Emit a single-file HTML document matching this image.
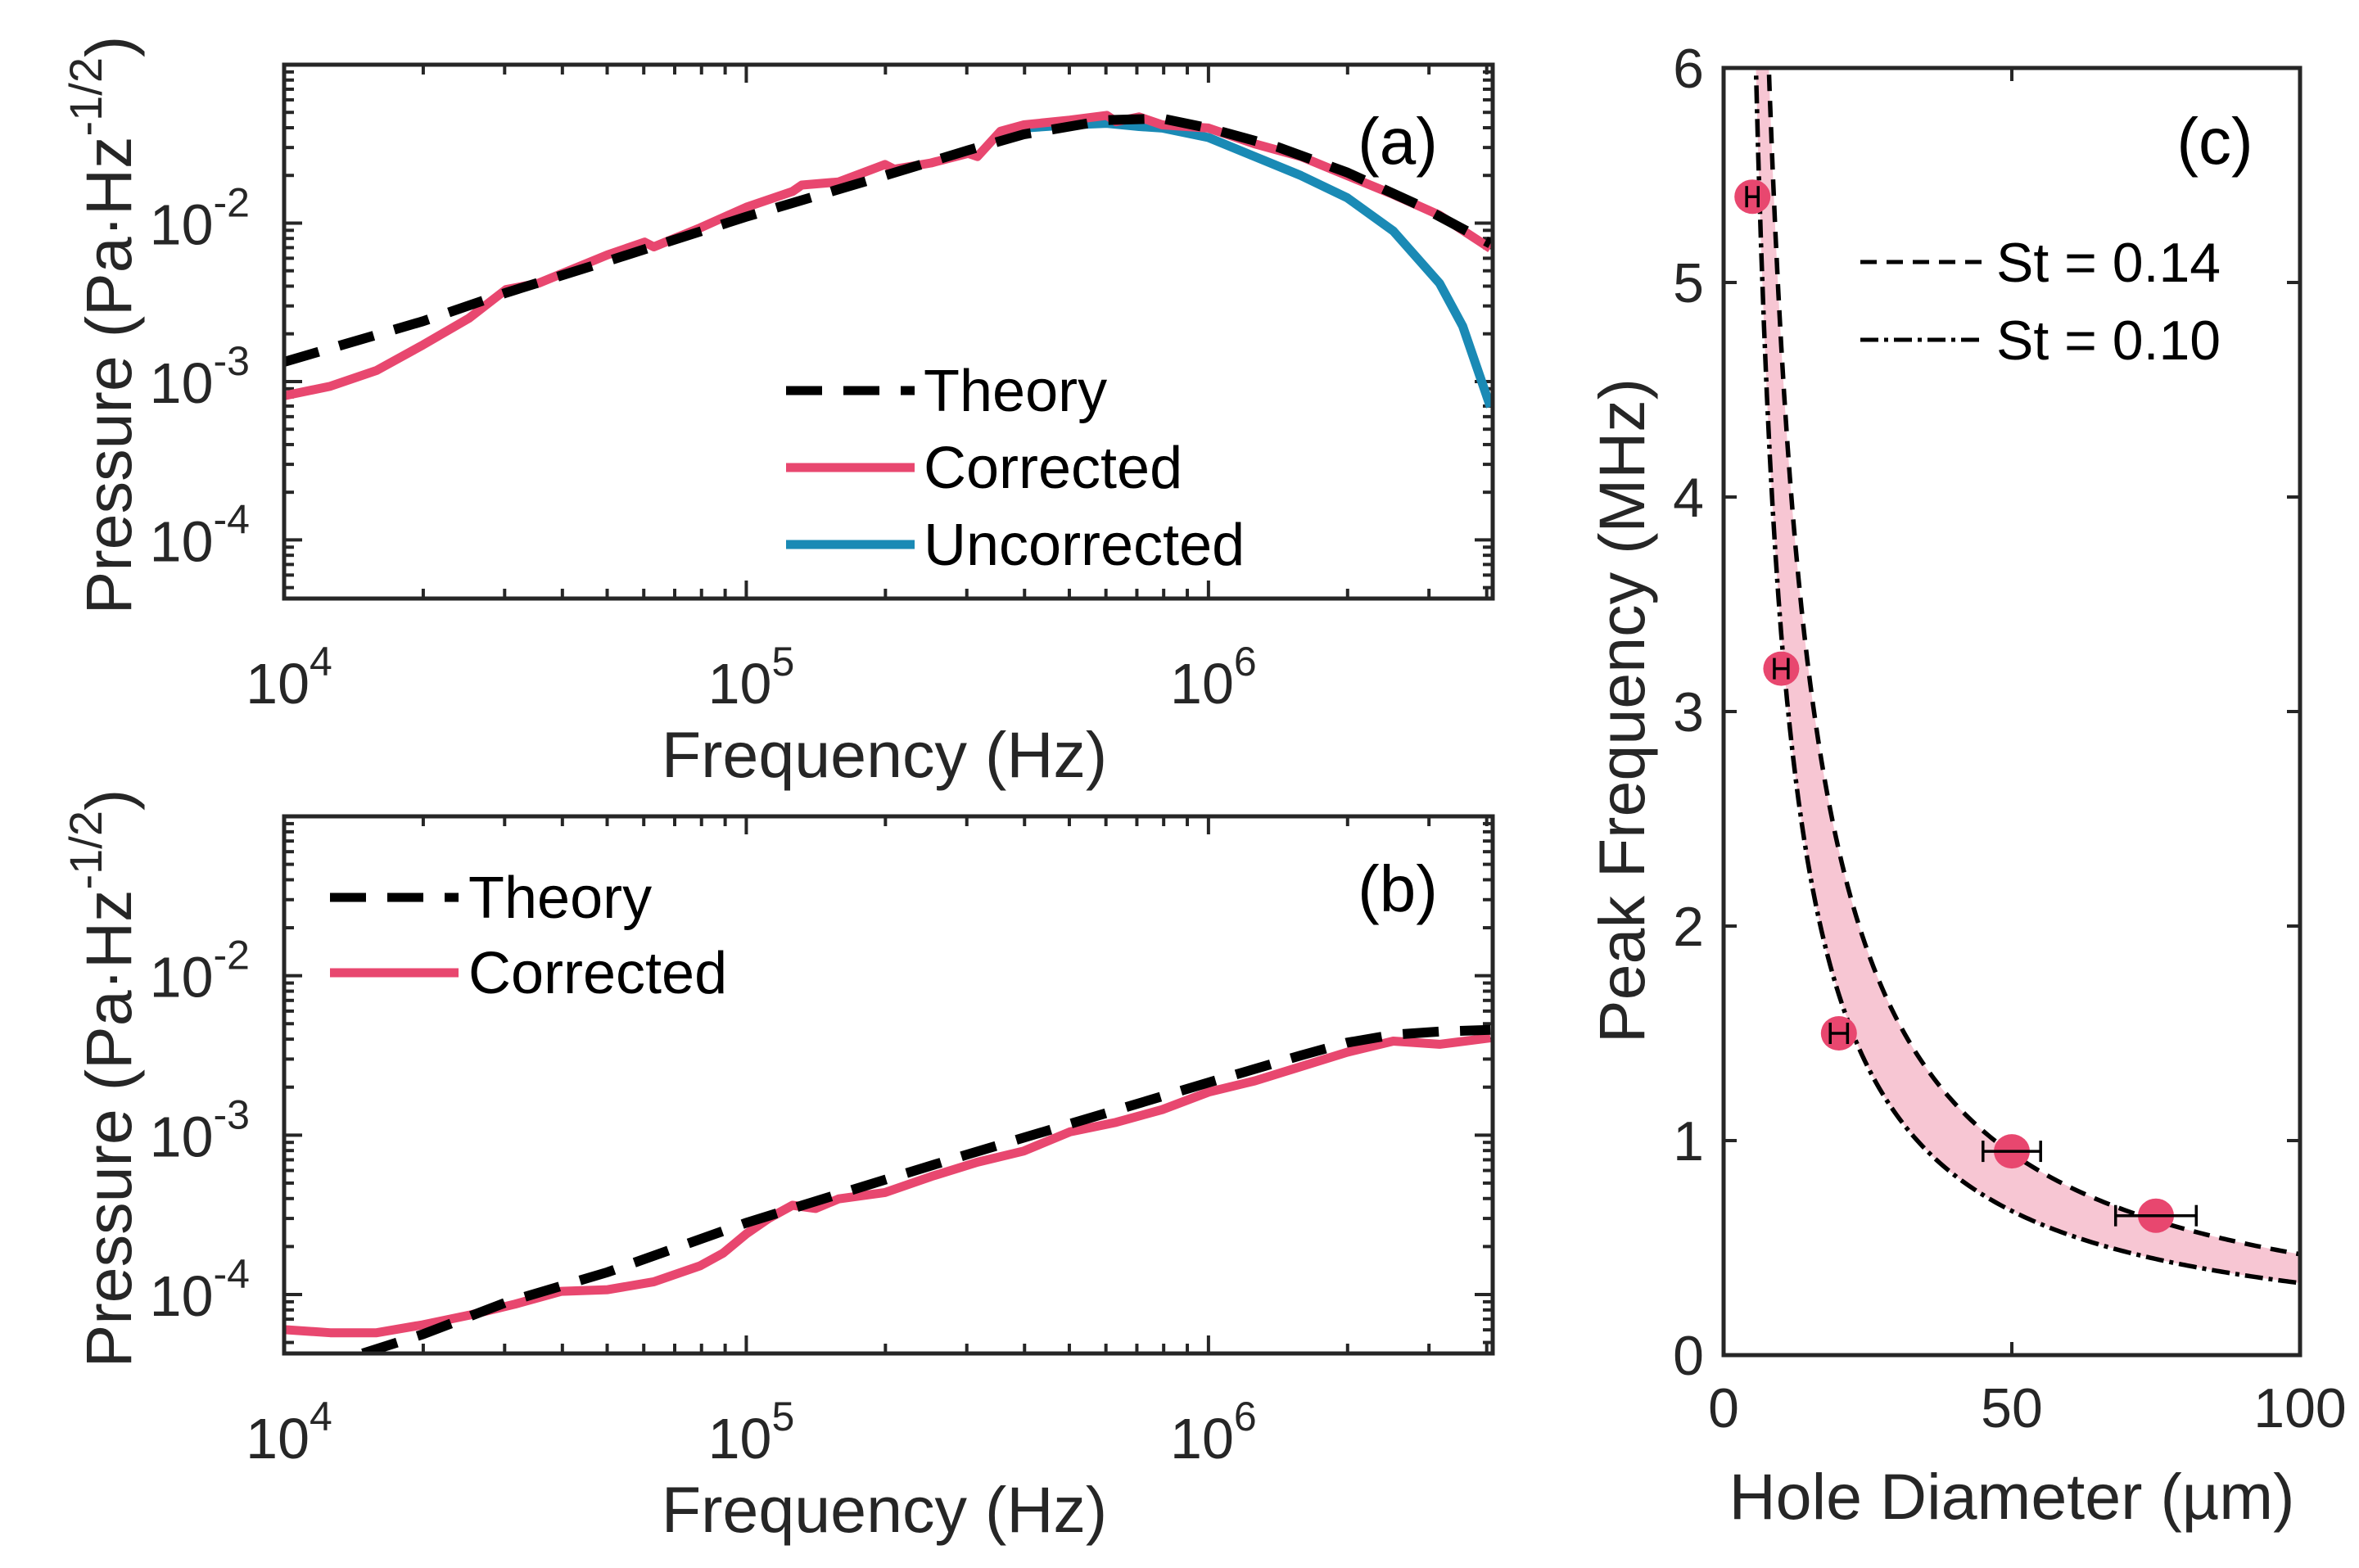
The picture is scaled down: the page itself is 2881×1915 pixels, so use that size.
<!DOCTYPE html>
<html><head><meta charset="utf-8"><style>
html,body{margin:0;padding:0;background:#fff;}
svg{display:block;font-family:"Liberation Sans",Arial,sans-serif;}
</style></head><body>
<svg id="fig" width="2881" height="1915" viewBox="0 0 2881 1915" xmlns="http://www.w3.org/2000/svg">
<rect width="2881" height="1915" fill="#fff"/>
</svg>
<script>
// ---- Panel (a) data (log10 frequency, log10 pressure) ----
const aTheoryX = [4, 4.3, 4.48, 4.7, 5, 5.3, 5.48, 5.6, 5.78, 5.9, 6, 6.15, 6.3, 6.45, 6.61];
const aTheoryY = [-2.876, -2.62, -2.44, -2.24, -1.96, -1.70, -1.54, -1.44, -1.35, -1.34, -1.40, -1.52, -1.68, -1.88, -2.13];
const aCorrX = [4, 4.1, 4.2, 4.3, 4.4, 4.48, 4.55, 4.7, 4.78, 4.8, 4.9, 5, 5.1, 5.12, 5.2, 5.3, 5.32, 5.4, 5.48, 5.5, 5.55, 5.6, 5.7, 5.78, 5.8, 5.85, 5.9, 6, 6.1, 6.2, 6.3, 6.4, 6.5, 6.61];
const aCorrY = [-3.09, -3.03, -2.93, -2.77, -2.60, -2.42, -2.38, -2.20, -2.12, -2.15, -2.03, -1.90, -1.80, -1.76, -1.74, -1.63, -1.66, -1.62, -1.56, -1.58, -1.42, -1.38, -1.35, -1.32, -1.36, -1.33, -1.38, -1.40, -1.50, -1.58, -1.70, -1.82, -1.95, -2.16];
const aUncX = [5.55, 5.6, 5.7, 5.78, 5.85, 5.9, 6, 6.1, 6.2, 6.3, 6.4, 6.5, 6.55, 6.61];
const aUncY = [-1.44, -1.40, -1.38, -1.37, -1.39, -1.40, -1.46, -1.58, -1.70, -1.84, -2.05, -2.38, -2.65, -3.16];
// ---- Panel (b) data ----
const bTheoryX = [4.17, 4.3, 4.48, 4.7, 5, 5.3, 5.48, 5.7, 6, 6.2, 6.3, 6.4, 6.5, 6.61];
const bTheoryY = [-4.37, -4.25, -4.05, -3.86, -3.55, -3.28, -3.12, -2.93, -2.67, -2.50, -2.42, -2.37, -2.35, -2.34];
const bCorrX = [4, 4.1, 4.2, 4.3, 4.4, 4.5, 4.6, 4.7, 4.8, 4.9, 4.95, 5, 5.05, 5.1, 5.15, 5.2, 5.3, 5.4, 5.5, 5.6, 5.7, 5.8, 5.9, 6, 6.1, 6.2, 6.3, 6.4, 6.5, 6.61];
const bCorrY = [-4.22, -4.24, -4.24, -4.19, -4.13, -4.06, -3.98, -3.97, -3.92, -3.82, -3.74, -3.62, -3.52, -3.44, -3.46, -3.40, -3.36, -3.26, -3.17, -3.10, -2.98, -2.92, -2.84, -2.73, -2.66, -2.57, -2.48, -2.41, -2.43, -2.39];
// ---- Panel (c) data ----
const cDiam = [5, 10, 20, 50, 75];
const cFreq = [5.4, 3.2, 1.5, 0.95, 0.65];
const cXerr = [1, 1.2, 1.5, 5, 7];
const cStValues = [0.14, 0.10];
const cStLabels = ["St = 0.14", "St = 0.10"];
const cVelocity = [336]; // MHz·µm constant for f = St*U/d
const logXTicks = [4, 5, 6];
const logYTicks = [-4, -3, -2];
const cXTicks = [0, 50, 100];
const cYTicks = [0, 1, 2, 3, 4, 5, 6];

const NS = "http://www.w3.org/2000/svg";
const svg = document.getElementById('fig');
function el(tag, attrs, parent, text){
  const e = document.createElementNS(NS, tag);
  for (const k in attrs) e.setAttribute(k, attrs[k]);
  if (text !== undefined) e.textContent = text;
  (parent || svg).appendChild(e);
  return e;
}
const PINK = "#e8476f", BLUE = "#1a8ab5";
const DASH = '44 26';

function logPanel(id, top, bottom){
  const L = 347, R = 1823, xmin = 4, xmax = 6.615, ymin = -4.37, ymax = -1.0;
  const sx = v => L + (v - xmin) / (xmax - xmin) * (R - L);
  const sy = v => bottom - (v - ymin) / (ymax - ymin) * (bottom - top);
  const g = el('g', {});
  
  
  for (let d = 4; d <= 6; d++) {
    for (let m = 1; m <= 9; m++) {
      const v = d + Math.log10(m);
      if (v > xmax) continue;
      const len = m === 1 ? 22 : 12;
      const x = sx(v);
      el('line', {x1:x, x2:x, y1:bottom, y2:bottom-len, stroke:'#262626','stroke-width':4}, g);
      el('line', {x1:x, x2:x, y1:top, y2:top+len, stroke:'#262626','stroke-width':4}, g);
    }
  }
  for (let d = -5; d <= -1; d++) {
    for (let m = 1; m <= 9; m++) {
      const v = d + Math.log10(m);
      if (v < ymin || v > ymax) continue;
      const len = m === 1 ? 22 : 12;
      const y = sy(v);
      el('line', {x1:L, x2:L+len, y1:y, y2:y, stroke:'#262626','stroke-width':4}, g);
      el('line', {x1:R, x2:R-len, y1:y, y2:y, stroke:'#262626','stroke-width':4}, g);
    }
  }
  logXTicks.forEach(t => {
    const tx = el('text', {x:sx(t)+6, y:bottom+128, 'font-size':70, 'text-anchor':'middle', fill:'#262626'}, g);
    
    
    el('tspan', {}, tx, '10');
    el('tspan', {dy:-34, 'font-size':50}, tx, String(t));
  });
  logYTicks.forEach(t => {
    const tx = el('text', {x:L-42, y:sy(t)+26, 'font-size':70, 'text-anchor':'end', fill:'#262626'}, g);
    
    
    el('tspan', {}, tx, '10');
    el('tspan', {dy:-34, 'font-size':50}, tx, String(t));
  });
  const xt = el('text', {x:(L+R)/2 - 5, y:bottom+218, 'font-size':79, 'text-anchor':'middle', fill:'#262626'}, g, 'Frequency (Hz)');
  
  
  const cy = (top + bottom) / 2 - 8;
  const yt = el('text', {x:0, y:0, 'font-size':79, 'text-anchor':'middle', fill:'#262626', transform:`translate(160,${cy}) rotate(-90)`}, g);
  
  
  el('tspan', {}, yt, 'Pressure (Pa·Hz');
  el('tspan', {dy:-36, 'font-size':56}, yt, '-1/2');
  el('tspan', {dy:36}, yt, ')');
  return {g, sx, sy, L, R, top, bottom};
}
function pathFrom(xs, ys, sx, sy){
  return xs.map((x,i)=>(i?'L':'M')+sx(x).toFixed(1)+' '+sy(ys[i]).toFixed(1)).join(' ');
}
function clip(id, p){
  const defs = el('defs', {});
  const cp = el('clipPath', {id:id}, defs);
  el('rect', {x:p.L, y:p.top, width:p.R-p.L, height:p.bottom-p.top}, cp);
}

// Panel (a)
const pa = logPanel('a', 79, 731);
clip('clipA', pa);
const gA = el('g', {'clip-path':'url(#clipA)'}, pa.g);
let ln = el('path', {d:pathFrom(aUncX, aUncY, pa.sx, pa.sy), fill:'none', stroke:BLUE, 'stroke-width':11, 'stroke-linejoin':'round'}, gA);


ln = el('path', {d:pathFrom(aCorrX, aCorrY, pa.sx, pa.sy), fill:'none', stroke:PINK, 'stroke-width':11, 'stroke-linejoin':'round'}, gA);


ln = el('path', {d:pathFrom(aTheoryX, aTheoryY, pa.sx, pa.sy), fill:'none', stroke:'#000', 'stroke-width':12, 'stroke-dasharray':DASH}, gA);


el('rect', {x:pa.L, y:pa.top, width:pa.R-pa.L, height:pa.bottom-pa.top, fill:'none', stroke:'#262626', 'stroke-width':5}, pa.g);
let t = el('text', {x:1707, y:200, 'font-size':80, 'text-anchor':'middle', fill:'#000'}, pa.g, '(a)');


const legA = [['Theory','#000',true],['Corrected',PINK,false],['Uncorrected',BLUE,false]];
legA.forEach((e,i)=>{
  const y = 477 + i*94;
  const lg = el('g', {}, pa.g);
  
  
  el('line', {x1:960, x2:1117, y1:y, y2:y, stroke:e[1], 'stroke-width':11, 'stroke-dasharray': e[2] ? DASH : 'none'}, lg);
  el('text', {x:1128, y:y+25, 'font-size':72, fill:'#000'}, lg, e[0]);
});

// Panel (b)
const pb = logPanel('b', 997, 1653);
clip('clipB', pb);
const gB = el('g', {'clip-path':'url(#clipB)'}, pb.g);
ln = el('path', {d:pathFrom(bCorrX, bCorrY, pb.sx, pb.sy), fill:'none', stroke:PINK, 'stroke-width':11, 'stroke-linejoin':'round'}, gB);


ln = el('path', {d:pathFrom(bTheoryX, bTheoryY, pb.sx, pb.sy), fill:'none', stroke:'#000', 'stroke-width':12, 'stroke-dasharray':DASH}, gB);


el('rect', {x:pb.L, y:pb.top, width:pb.R-pb.L, height:pb.bottom-pb.top, fill:'none', stroke:'#262626', 'stroke-width':5}, pb.g);
t = el('text', {x:1707, y:1113, 'font-size':80, 'text-anchor':'middle', fill:'#000'}, pb.g, '(b)');


[['Theory','#000',true],['Corrected',PINK,false]].forEach((e,i)=>{
  const y = 1096 + i*92;
  const lg = el('g', {}, pb.g);
  
  
  el('line', {x1:403, x2:560, y1:y, y2:y, stroke:e[1], 'stroke-width':11, 'stroke-dasharray': e[2] ? DASH : 'none'}, lg);
  el('text', {x:572, y:y+25, 'font-size':72, fill:'#000'}, lg, e[0]);
});

// Panel (c)
(function(){
  const L = 2105, R = 2809, top = 83, bottom = 1655;
  const sx = v => L + v/100*(R-L);
  const sy = v => bottom - v/6*(bottom-top);
  const g = el('g', {});
  
  
  const defs = el('defs', {}, g);
  const cp = el('clipPath', {id:'clipC'}, defs);
  el('rect', {x:L, y:top, width:R-L, height:bottom-top}, cp);
  const gc = el('g', {'clip-path':'url(#clipC)'}, g);
  const U = cVelocity[0];
  const curve = st => { const xs=[], ys=[]; for (let d=4; d<=100; d+=0.5){ xs.push(d); ys.push(st*U/d);} return [xs,ys]; };
  const [x1,y1] = curve(cStValues[0]); const [x2,y2] = curve(cStValues[1]);
  let d = x1.map((x,i)=>(i?'L':'M')+sx(x)+' '+sy(Math.min(y1[i],7))).join(' ');
  d += ' ' + x2.slice().reverse().map((x,i)=>'L'+sx(x)+' '+sy(Math.min(y2[y2.length-1-i],7))).join(' ') + ' Z';
  const band = el('path', {d:d, fill:'#f7c6d3', stroke:'none'}, gc);
  
  
  const dashes = ['20 12', '22 7 5 7'];
  [[x1,y1],[x2,y2]].forEach((c,k)=>{
    const p = el('path', {d:c[0].map((x,i)=>(i?'L':'M')+sx(x)+' '+sy(Math.min(c[1][i],7))).join(' '), fill:'none', stroke:'#000', 'stroke-width':5.5, 'stroke-dasharray':dashes[k]}, gc);
    
    
  });
  cDiam.forEach((dd,i)=>{
    const pg = el('g', {}, gc);
    
    
    el('ellipse', {cx:sx(dd), cy:sy(cFreq[i]), rx:22, ry:21, fill:PINK}, pg);
    const xa = sx(dd-cXerr[i]), xb = sx(dd+cXerr[i]), y = sy(cFreq[i]);
    el('line', {x1:xa, x2:xb, y1:y, y2:y, stroke:'#000','stroke-width':3.5}, pg);
    el('line', {x1:xa, x2:xa, y1:y-13, y2:y+13, stroke:'#000','stroke-width':3.5}, pg);
    el('line', {x1:xb, x2:xb, y1:y-13, y2:y+13, stroke:'#000','stroke-width':3.5}, pg);
  });
  el('rect', {x:L, y:top, width:R-L, height:bottom-top, fill:'none', stroke:'#262626', 'stroke-width':5}, g);
  cXTicks.forEach(v=>{
    el('line', {x1:sx(v), x2:sx(v), y1:bottom, y2:bottom-16, stroke:'#262626','stroke-width':4}, g);
    el('line', {x1:sx(v), x2:sx(v), y1:top, y2:top+16, stroke:'#262626','stroke-width':4}, g);
    const tx = el('text', {x:sx(v), y:bottom+88, 'font-size':68, 'text-anchor':'middle', fill:'#262626'}, g, String(v));
    
    
  });
  cYTicks.forEach(v=>{
    el('line', {x1:L, x2:L+16, y1:sy(v), y2:sy(v), stroke:'#262626','stroke-width':4}, g);
    el('line', {x1:R, x2:R-16, y1:sy(v), y2:sy(v), stroke:'#262626','stroke-width':4}, g);
    const tx = el('text', {x:L-24, y:sy(v)+24, 'font-size':68, 'text-anchor':'end', fill:'#262626'}, g, String(v));
    
    
  });
  let tt = el('text', {x:(L+R)/2, y:1855, 'font-size':79, 'text-anchor':'middle', fill:'#262626'}, g, 'Hole Diameter (µm)');
  
  
  tt = el('text', {x:0, y:0, 'font-size':79, 'text-anchor':'middle', fill:'#262626', transform:'translate(2008,868) rotate(-90)'}, g, 'Peak Frequency (MHz)');
  
  
  tt = el('text', {x:2705, y:200, 'font-size':80, 'text-anchor':'middle', fill:'#000'}, g, '(c)');
  
  
  cStLabels.forEach((lab,i)=>{
    const y = 320 + i*95;
    const lg = el('g', {}, g);
    
    
    el('line', {x1:2272, x2:2420, y1:y, y2:y, stroke:'#000','stroke-width':5,'stroke-dasharray':dashes[i]}, lg);
    el('text', {x:2438, y:y+24, 'font-size':68, fill:'#000'}, lg, lab);
  });
})();
</script>
</body></html>
